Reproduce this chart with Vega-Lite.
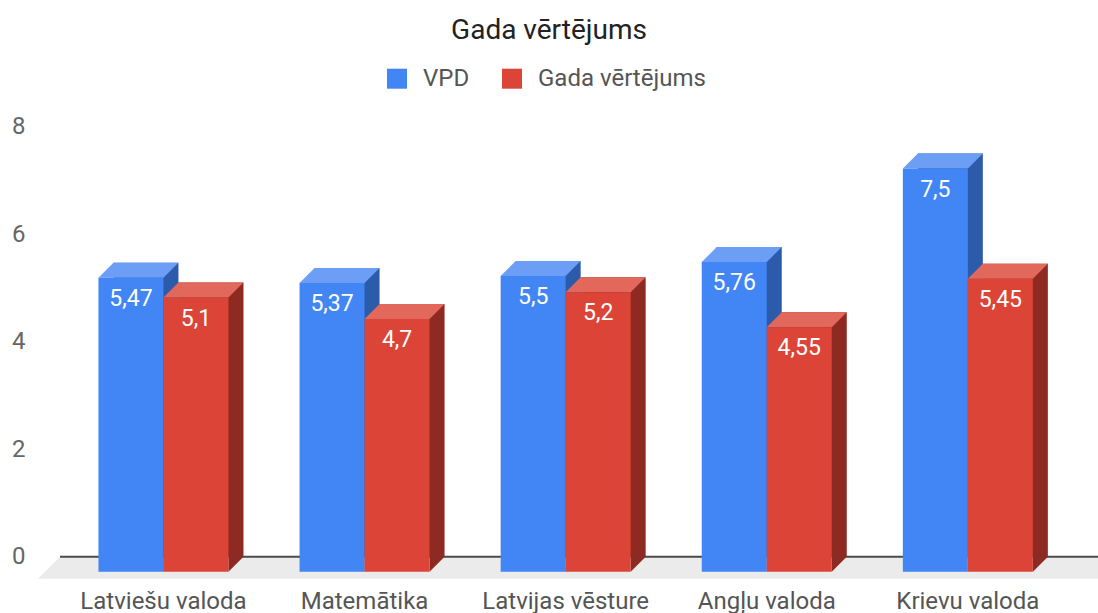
{
  "$schema": "https://vega.github.io/schema/vega-lite/v6.json",
  "autosize": {"type": "none"},
  "width": 1038,
  "height": 430,
  "padding": {"left": 60, "top": 126.7, "right": 0, "bottom": 56.3},
  "background": "white",
  "config": {
    "font": "Roboto",
    "view": {"stroke": null},
    "locale": {"number": {"decimal": ",", "thousands": " ", "grouping": [3], "currency": ["", " €"]}},
    "axisY": {"domain": false, "ticks": false, "tickSize": 0, "labelPadding": 35, "labelFontSize": 24, "labelColor": "#666666", "gridColor": "#dadada", "gridWidth": 2, "tickCount": 5},
    "axisX": {"domain": false, "ticks": false, "tickSize": 0, "grid": false, "labelAngle": 0, "labelFontSize": 24, "labelColor": "#555555", "labelPadding": 52, "labelOffset": -15, "labelBaseline": "alphabetic", "labelLimit": 300}
  },
  "title": {"text": "Gada vērtējums", "fontSize": 28, "fontWeight": "normal", "color": "#222222", "anchor": "middle", "frame": "group", "dx": -30, "offset": 22},
  "data": {"values": [
    {"subject": "Latviešu valoda", "series": "VPD", "value": 5.47},
    {"subject": "Matemātika", "series": "VPD", "value": 5.37},
    {"subject": "Latvijas vēsture", "series": "VPD", "value": 5.5},
    {"subject": "Angļu valoda", "series": "VPD", "value": 5.76},
    {"subject": "Krievu valoda", "series": "VPD", "value": 7.5},
    {"subject": "Latviešu valoda", "series": "Gada vērtējums", "value": 5.1},
    {"subject": "Matemātika", "series": "Gada vērtējums", "value": 4.7},
    {"subject": "Latvijas vēsture", "series": "Gada vērtējums", "value": 5.2},
    {"subject": "Angļu valoda", "series": "Gada vērtējums", "value": 4.55},
    {"subject": "Krievu valoda", "series": "Gada vērtējums", "value": 5.45}
  ]},
  "resolve": {"scale": {"xOffset": "independent"}},
  "layer": [
    {
      "data": {"values": [{}]},
      "mark": {"type": "rect", "fill": "#ebebeb", "y2Offset": 22},
      "encoding": {
        "x": {"value": 0},
        "x2": {"value": "width"},
        "y": {"datum": 0, "type": "quantitative", "scale": {"domain": [0, 8], "nice": false}, "title": null},
        "y2": {"datum": 0}
      }
    },
    {
      "data": {"values": [{}]},
      "mark": {"type": "point", "shape": "M0,0 L0,22 L-22,22 Z", "size": 4, "filled": true, "opacity": 1, "fill": "#ebebeb", "strokeWidth": 0},
      "encoding": {
        "x": {"value": 0},
        "y": {"datum": 0, "type": "quantitative", "title": null}
      }
    },
    {
      "data": {"values": [{}]},
      "mark": {"type": "rule", "color": "#4a4a4a", "strokeWidth": 2},
      "encoding": {
        "y": {"datum": 0, "type": "quantitative", "title": null}
      }
    },
    {
      "mark": {"type": "bar"},
      "encoding": {
        "x": {"field": "subject", "type": "nominal", "sort": null, "title": null, "scale": {"paddingInner": 0.3535, "paddingOuter": 0.2576, "align": 0.516}},
        "xOffset": {"field": "series", "type": "nominal", "sort": ["VPD", "Gada vērtējums"], "scale": {"type": "band", "paddingInner": 0, "paddingOuter": 0}},
        "y": {"field": "value", "type": "quantitative", "title": null},
        "fill": {"condition": {"test": "datum.series === 'VPD'", "value": "#2c5bab"}, "value": "#8e2a22"}
      }
    },
    {
      "mark": {"type": "point", "shape": "M17.5,0 L17.5,15 L32.5,0 Z", "size": 4, "filled": true, "opacity": 1, "strokeWidth": 0},
      "encoding": {
        "x": {"field": "subject", "type": "nominal", "sort": null, "title": null},
        "xOffset": {"field": "series", "type": "nominal", "sort": ["VPD", "Gada vērtējums"], "scale": {"type": "band", "paddingInner": 0, "paddingOuter": 0}},
        "y": {"datum": 0, "type": "quantitative", "title": null},
        "fill": {"condition": {"test": "datum.series === 'VPD'", "value": "#2c5bab"}, "value": "#8e2a22"}
      }
    },
    {
      "mark": {"type": "point", "shape": "M-32.5,0 L32.5,0 L17.5,15 L-47.5,15 Z", "size": 4, "filled": true, "opacity": 1, "strokeWidth": 0},
      "encoding": {
        "x": {"field": "subject", "type": "nominal", "sort": null, "title": null},
        "xOffset": {"field": "series", "type": "nominal", "sort": ["VPD", "Gada vērtējums"], "scale": {"type": "band", "paddingInner": 0, "paddingOuter": 0}},
        "y": {"field": "value", "type": "quantitative", "title": null},
        "fill": {"condition": {"test": "datum.series === 'VPD'", "value": "#6c9ef6"}, "value": "#e3685c"}
      }
    },
    {
      "mark": {"type": "bar", "yOffset": 15, "y2Offset": 15},
      "encoding": {
        "x": {"field": "subject", "type": "nominal", "sort": null, "title": null},
        "xOffset": {"field": "series", "type": "nominal", "sort": ["VPD", "Gada vērtējums"], "scale": {"type": "band", "range": [-15, 115], "paddingInner": 0, "paddingOuter": 0}},
        "y": {"field": "value", "type": "quantitative", "title": null},
        "color": {
          "field": "series", "type": "nominal",
          "scale": {"domain": ["VPD", "Gada vērtējums"], "range": ["#4285f4", "#db4437"]},
          "legend": {"orient": "none", "legendX": 325, "legendY": -60, "direction": "horizontal", "title": null, "symbolType": "square", "symbolSize": 400, "symbolStrokeWidth": 0, "labelFontSize": 24, "labelColor": "#555555", "labelOffset": 14, "columnPadding": 30, "labelLimit": 300}
        }
      }
    },
    {
      "mark": {"type": "text", "dx": -15, "dy": 43, "baseline": "alphabetic", "align": "center", "fontSize": 23, "fill": "white"},
      "encoding": {
        "x": {"field": "subject", "type": "nominal", "sort": null, "title": null},
        "xOffset": {"field": "series", "type": "nominal", "sort": ["VPD", "Gada vērtējums"], "scale": {"type": "band", "paddingInner": 0, "paddingOuter": 0}},
        "y": {"field": "value", "type": "quantitative", "title": null},
        "text": {"field": "value", "type": "quantitative", "format": ".3~g"}
      }
    }
  ]
}
